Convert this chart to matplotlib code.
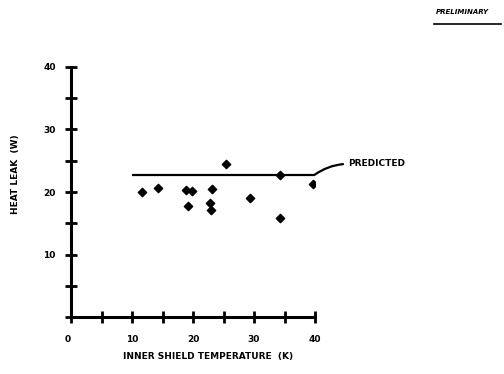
import numpy as np
import matplotlib
matplotlib.use("Agg")
import matplotlib.pyplot as plt

temp_k = [11.6, 14.3, 18.9, 19.8, 23.1, 19.2, 22.8, 23.0, 29.3, 25.4, 34.3, 39.7, 34.3]
heat_leak_w = [20.0, 20.6, 20.3, 20.2, 20.5, 17.8, 18.3, 17.2, 19.1, 24.5, 15.9, 21.3, 22.8]

# predicted value (flat line)
pred_temp = [10, 40]
pred_leak = [22.8, 22.8]

x_ticks = np.arange(0, 45, 5)
x_labels = ["0", "", "10", "", "20", "", "30", "", "40"]
y_ticks = np.arange(0, 45, 5)
y_labels = ["", "", "10", "", "20", "", "30", "", "40"]

plt.rcParams["font.family"] = "DejaVu Sans"
plt.rcParams["font.weight"] = "bold"

fig = plt.figure(figsize=(5.04, 3.74), dpi=100)
ax = fig.add_axes([0.141, 0.152, 0.484, 0.669])

ax.plot(pred_temp, pred_leak, color="black", lw=1.6, solid_capstyle="butt")
ax.scatter(temp_k, heat_leak_w, marker="D", s=18, color="black", zorder=3)

ax.set_xlim(0, 40)
ax.set_ylim(0, 40)
for side in ["top", "right"]:
    ax.spines[side].set_visible(False)
for side in ["left", "bottom"]:
    ax.spines[side].set_linewidth(2.2)

ax.set_xticks(x_ticks)
ax.set_xticklabels(x_labels)
ax.set_yticks(y_ticks)
ax.set_yticklabels(y_labels)
ax.tick_params(direction="inout", length=8, width=2.0, labelsize=6.5, pad=7)
ax.tick_params(axis="x", pad=9)
ax.get_xticklabels()[0].set_horizontalalignment("right")

ax.set_xlabel("INNER SHIELD TEMPERATURE  (K)", fontsize=6.5, fontweight="bold")
ax.xaxis.set_label_coords(0.56, -0.14)
ax.set_ylabel("HEAT LEAK  (W)", fontsize=6.5, fontweight="bold")
ax.yaxis.set_label_coords(-0.21, 0.57)

ax.annotate("PREDICTED", xy=(40, 22.8), xytext=(45.5, 24.5),
            fontsize=6.5, fontweight="bold", va="center", ha="left",
            annotation_clip=False,
            arrowprops=dict(arrowstyle="-", lw=1.6, color="black",
                            connectionstyle="angle3,angleA=0,angleB=35",
                            relpos=(0, 0.5), shrinkA=2, shrinkB=0))

fig.text(0.865, 0.968, "PRELIMINARY", fontsize=5, fontweight="bold",
         style="italic", ha="left", va="center")
fig.add_artist(plt.Line2D([0.862, 0.995], [0.936, 0.936], color="black", lw=1.2))

fig.savefig("out.png", dpi=100)
